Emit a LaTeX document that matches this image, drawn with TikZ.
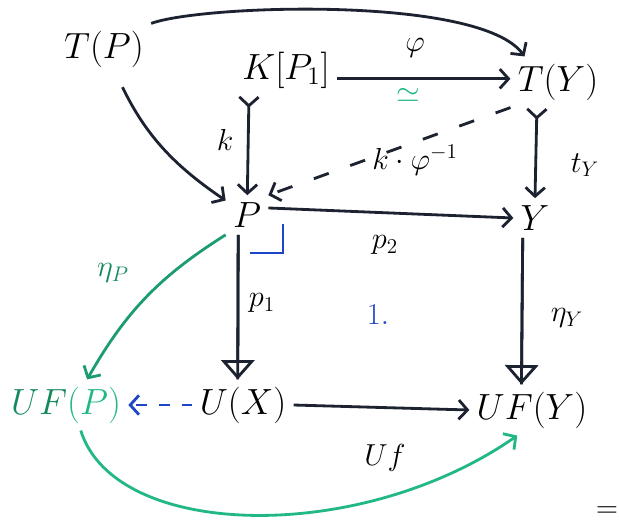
\documentclass[tikz,border=0pt]{standalone}
\usetikzlibrary{arrows.meta}
\definecolor{encre}{HTML}{1C2230}
\definecolor{vert}{HTML}{22B787}
\definecolor{vertfonce}{HTML}{128A5C}
\definecolor{bleu}{HTML}{1E44C8}
\begin{document}
\begin{tikzpicture}[x = 0.02cm, y = -0.02cm,
		obj/.style	= {font=\fontsize{22}{26}\selectfont, inner sep=4pt},
		lab/.style	= {font=\fontsize{18}{22}\selectfont, inner sep=1pt},
		fl/.style	= {line width=1.6pt, color=encre, -{Straight Barb[length=5pt,width=11pt]}},
		mono/.style	= {fl, {Straight Barb[reversed,length=5pt,width=11pt]}-{Straight Barb[length=5pt,width=11pt]}},
		epi/.style	= {line width=1.6pt, color=encre, -{Triangle[open,length=11pt,width=19pt]}, postaction={draw,arrows=-}}
	]
	% Clip
	\clip (0,0) rectangle (619,528);
	\fill [white] (0,0) rectangle (619,528);
	% Objets
	\node [obj]	(TP)	at (104, 49)	{$T(P)$};
	\node [obj]	(KP)	at (286, 70)	{$K[P_1]$};
	\node [obj]	(TY)	at (558, 82)	{$T(Y)$};
	\node [obj]	(P)		at (247,215)	{$P$};
	\node [obj]	(Y)		at (535,218)	{$Y$};
	\node [obj]	(UFP)	at ( 66,405)	{{\color{vertfonce}$UF$}{\color{vert}$(P)$}};
	\node [obj]	(UX)	at (243,405)	{$U(X)$};
	\node [obj]	(UFY)	at (532,410)	{$UF(Y)$};
	% Fleches du haut
	\draw [fl]	(TP.north east) .. controls (200,5) and (480,-5) .. ([xshift=8pt]TY.north west);
	\draw [fl, shorten <=8pt]	(TP) to [bend right=15] (P);
	\draw [mono]	([xshift=8pt]KP.south west) -- (P);
	\draw [fl]	([yshift=-5pt]KP.east) -- ([yshift=-5pt]KP.east -| TY.west);
	\draw [mono]	([xshift=-12pt]TY.south) -- (Y.north);
	\draw [fl, dash pattern=on 9pt off 13pt]	(TY.south west) -- (P.north east);
	\draw [fl]	([yshift=4pt]P.east) -- (Y.west);
	% Fleches du bas
	\draw [epi]	([xshift=-5pt]P.south) -- ([xshift=-3pt]UX.north);
	\draw [epi]	([xshift=-7pt]Y.south) -- ([xshift=-6pt]UFY.north);
	\draw [fl]	(UX.east) -- (UFY.west);
	\draw [fl, color=bleu, dash pattern=on 6pt off 7pt]	(UX.west) -- (UFP.east);
	\draw [fl, color=vert!85!black]	(P.south west) to [bend right=14] ([xshift=12pt]UFP.north);
	\draw [fl, color=vert]	(UFP.-60) .. controls (115,540) and (360,545) .. (UFY.-120);
	% Coin du produit fibre
	\draw [bleu, line width=1.6pt]	(250,253) -- (283,253) -- (283,224);
	% Etiquettes
	\node [lab]	(lk)	at (225,140)	{$k$};
	\node [lab]	(lphi)	at (415, 48)	{$\varphi$};
	\node [lab, color=vert]	(liso)	at (408, 95)	{$\simeq$};
	\node [lab]	(lt)	at (585,165)	{$t_Y$};
	\node [lab]	(lkphi)	at (415,160)	{$k\cdot\varphi^{-1}$};
	\node [lab]	(lp2)	at (385,245)	{$p_2$};
	\node [lab]	(lp1)	at (262,303)	{$p_1$};
	\node [lab]	(leta)	at (567,318)	{$\eta_Y$};
	\node [lab, color=vertfonce]	(letaP)	at (113,273)	{$\eta_P$};
	\node [lab]	(lUf)	at (385,458)	{$Uf$};
	\node [lab, color=bleu]	(lun)	at (378,315)	{$1.$};
	\node [lab]	(legal)	at (607,512)	{$=$};
\end{tikzpicture}
\end{document}
